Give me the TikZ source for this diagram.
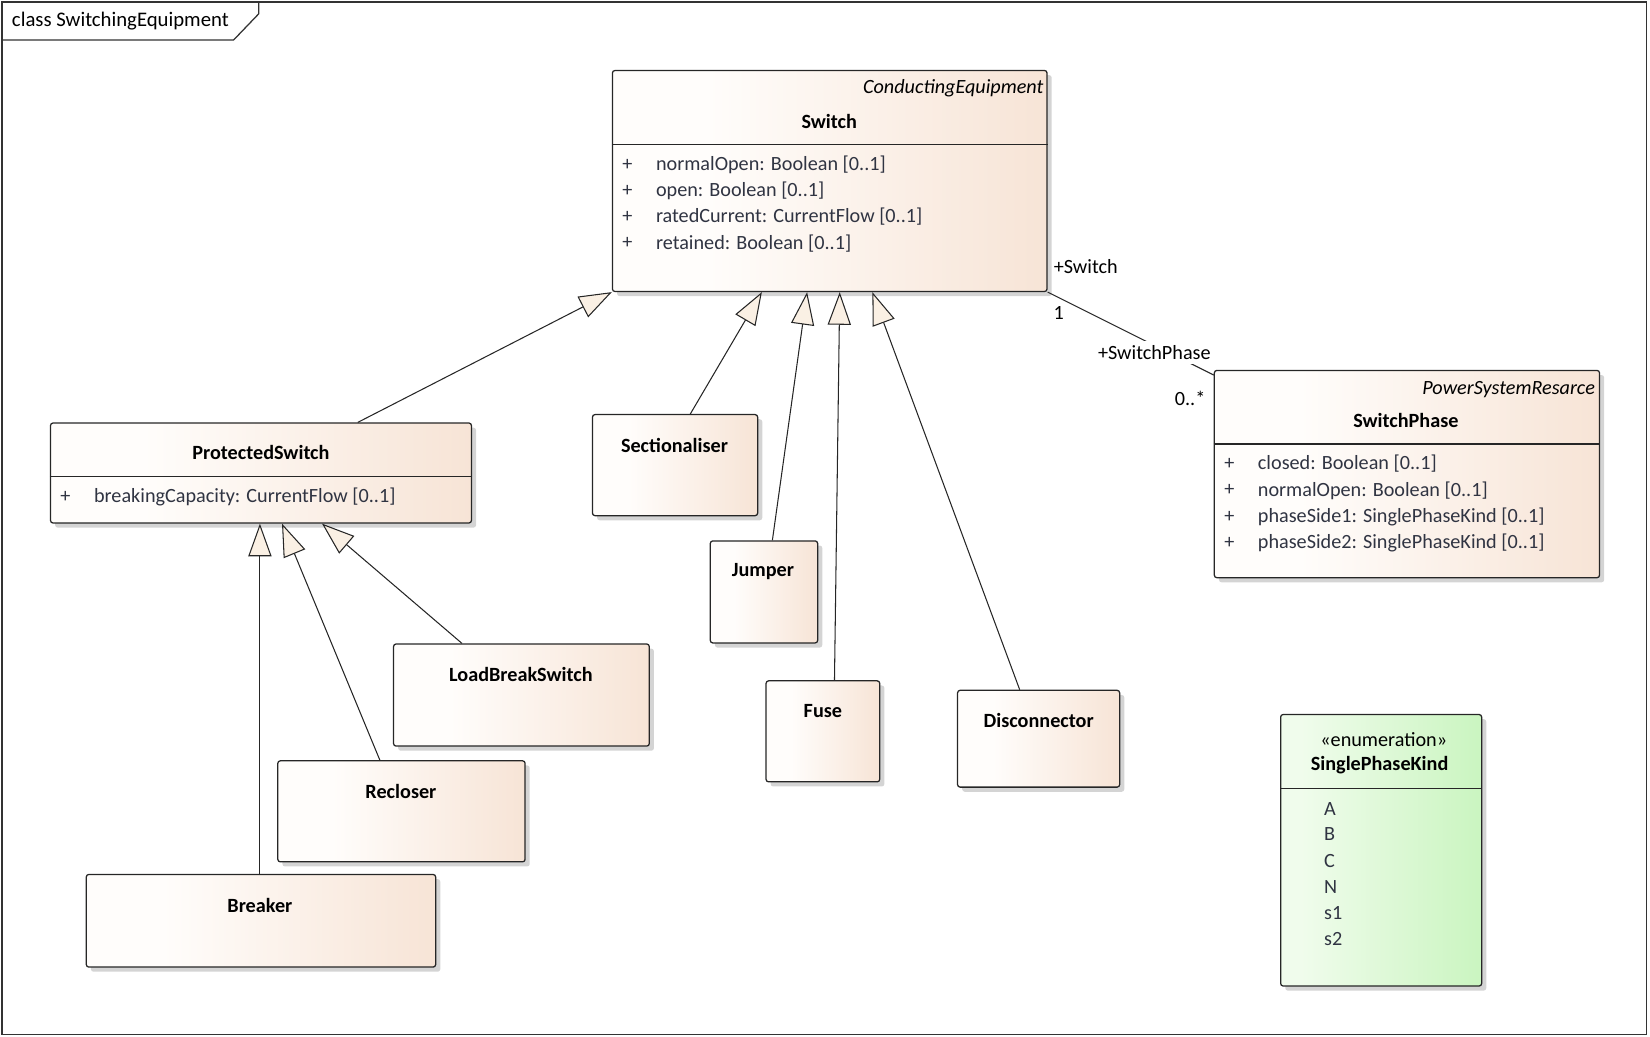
\documentclass[tikz,border=0pt]{standalone}
\usepackage{fontspec}
\setmainfont{Carlito}
\usetikzlibrary{arrows.meta,fit,shadows}
\definecolor{peachL}{RGB}{255,253,251}
\definecolor{peachR}{RGB}{247,228,214}
\definecolor{greenL}{RGB}{240,252,236}
\definecolor{greenR}{RGB}{202,245,192}
\definecolor{trifill}{RGB}{250,240,228}
\definecolor{attrc}{RGB}{48,52,66}
\definecolor{shadowc}{RGB}{212,212,212}
\pgfdeclarehorizontalshading{peachshade}{100bp}{color(0bp)=(peachL); color(25bp)=(peachL); color(36bp)=(peachL); color(75bp)=(peachR); color(100bp)=(peachR)}
\pgfdeclarehorizontalshading{greenshade}{100bp}{color(0bp)=(greenL); color(25bp)=(greenL); color(30bp)=(greenL); color(75bp)=(greenR); color(100bp)=(greenR)}
\tikzset{
  cls/.style={draw=black!85, line width=0.6pt, rounded corners=1.2pt, inner sep=0pt,
    shading=peachshade, drop shadow={shadow xshift=2.2pt, shadow yshift=-2.2pt, fill=shadowc, opacity=1}},
  enumbox/.style={cls, shading=greenshade},
  txt/.style={font=\fontsize{9.6}{11}\selectfont, inner sep=0pt},
  attr/.style={txt, text=attrc, anchor=west},
  titletxt/.style={txt, font=\fontsize{9.6}{11}\selectfont\bfseries},
  stereo/.style={txt, font=\fontsize{9.6}{11}\selectfont\itshape, anchor=east},
  sep/.style={draw=black!85, line width=0.6pt},
  gen/.style={draw=black!85, line width=0.5pt, -{Triangle[length=15.5pt, width=11pt, fill=trifill, line width=0.5pt]}},
  assoc/.style={draw=black!85, line width=0.5pt},
  lbl/.style={txt}
}
\begin{document}
\begin{tikzpicture}[x=0.5pt, y=-0.5pt]
\useasboundingbox (0,0) rectangle (1568,985);
% frame
\draw[line width=0.6pt, black!80] (2,2) rectangle (1565,983);
\draw[line width=0.6pt, black!80] (2,38) -- (222,38) -- (246,13) -- (246,2);
\node[txt, font=\fontsize{9.85}{11}\selectfont, anchor=west] (frametitle) at (11,20) {class SwitchingEquipment};

% Switch
\node[cls, fit={(582,67)(995,277)}] (sw) {};
\draw[sep] (sw.west |- 0,137) -- (sw.east |- 0,137);
\node[stereo] (swst) at (992,84) {ConductingEquipment};
\node[titletxt] (swt) at (788,115) {Switch};
\node[attr] (swp1) at (591,157) {+};
\node[attr] (swa1) at (623,157) {normalOpen: Boolean [0..1]};
\node[attr] (swp2) at (591,181) {+};
\node[attr] (swa2) at (623,181) {open: Boolean [0..1]};
\node[attr] (swp3) at (591,206) {+};
\node[attr] (swa3) at (623,206) {ratedCurrent: CurrentFlow [0..1]};
\node[attr] (swp4) at (591,231) {+};
\node[attr] (swa4) at (623,231) {retained: Boolean [0..1]};

% ProtectedSwitch
\node[cls, fit={(48,402)(448,497)}] (ps) {};
\draw[sep] (ps.west |- 0,453) -- (ps.east |- 0,453);
\node[titletxt] (pst) at (248,430) {ProtectedSwitch};
\node[attr] (psp1) at (57,472) {+};
\node[attr] (psa1) at (89,472) {breakingCapacity: CurrentFlow [0..1]};

% simple classes
\node[cls, fit={(563,394)(720,490)}] (sec) {};
\node[titletxt] (sect) at (641,423) {Sectionaliser};
\node[cls, fit={(675,514)(777,611)}] (jum) {};
\node[titletxt] (jumt) at (725,543) {Jumper};
\node[cls, fit={(728,647)(836,743)}] (fuse) {};
\node[titletxt] (fuset) at (782,676) {Fuse};
\node[cls, fit={(910,656)(1064,748)}] (disc) {};
\node[titletxt] (disct) at (987,685) {Disconnector};
\node[cls, fit={(374,612)(617,709)}] (lbs) {};
\node[titletxt] (lbst) at (495,641) {LoadBreakSwitch};
\node[cls, fit={(264,723)(499,819)}] (rec) {};
\node[titletxt] (rect) at (381,752) {Recloser};
\node[cls, fit={(82,831)(414,919)}] (brk) {};
\node[titletxt] (brkt) at (247,860) {Breaker};

% SwitchPhase
\node[cls, fit={(1154,352)(1520,549)}] (sp) {};
\draw[sep] (sp.west |- 0,422) -- (sp.east |- 0,422);
\node[stereo] (spst) at (1516,370) {PowerSystemResarce};
\node[titletxt] (spt) at (1336,400) {SwitchPhase};
\node[attr] (spp1) at (1163,441) {+};
\node[attr] (spa1) at (1195,441) {closed: Boolean [0..1]};
\node[attr] (spp2) at (1163,466) {+};
\node[attr] (spa2) at (1195,466) {normalOpen: Boolean [0..1]};
\node[attr] (spp3) at (1163,491) {+};
\node[attr] (spa3) at (1195,491) {phaseSide1: SinglePhaseKind [0..1]};
\node[attr] (spp4) at (1163,516) {+};
\node[attr] (spa4) at (1195,516) {phaseSide2: SinglePhaseKind [0..1]};

% Enumeration
\node[enumbox, fit={(1217,679)(1408,937)}] (spk) {};
\draw[sep] (spk.west |- 0,749) -- (spk.east |- 0,749);
\node[txt] (spkst) at (1315,703) {«enumeration»};
\node[titletxt] (spkt) at (1311,727) {SinglePhaseKind};
\node[attr] (l1) at (1258,769) {A};
\node[attr] (l2) at (1258,793) {B};
\node[attr] (l3) at (1258,818) {C};
\node[attr] (l4) at (1258,843) {N};
\node[attr] (l5) at (1258,868) {s1};
\node[attr] (l6) at (1258,892) {s2};

% generalizations
\draw[gen] (ps.north -| 340,0) -- (sw.south west);
\draw[gen] (sec.north -| 656,0) -- (sw.south -| 724,0);
\draw[gen] (jum.north -| 734,0) -- (sw.south -| 767,0);
\draw[gen] (fuse.north -| 793,0) -- (sw.south -| 798,0);
\draw[gen] (disc.north -| 969,0) -- (sw.south -| 829,0);
\draw[gen] (brk.north -| 247,0) -- (ps.south -| 247,0);
\draw[gen] (rec.north -| 361,0) -- (ps.south -| 268,0);
\draw[gen] (lbs.north -| 439,0) -- (ps.south -| 306,0);

% association
\draw[assoc] (sw.south east) -- ([yshift=-2.5pt]sp.north west);
\node[lbl, anchor=west] (rsw) at (1001,253) {+Switch};
\node[lbl] (msw) at (1006,297) {1};
\node[lbl, fill=white, inner sep=2pt] (rsp) at (1097,335) {+SwitchPhase};
\node[lbl] (msp) at (1131,379) {0..*};
\end{tikzpicture}
\end{document}
